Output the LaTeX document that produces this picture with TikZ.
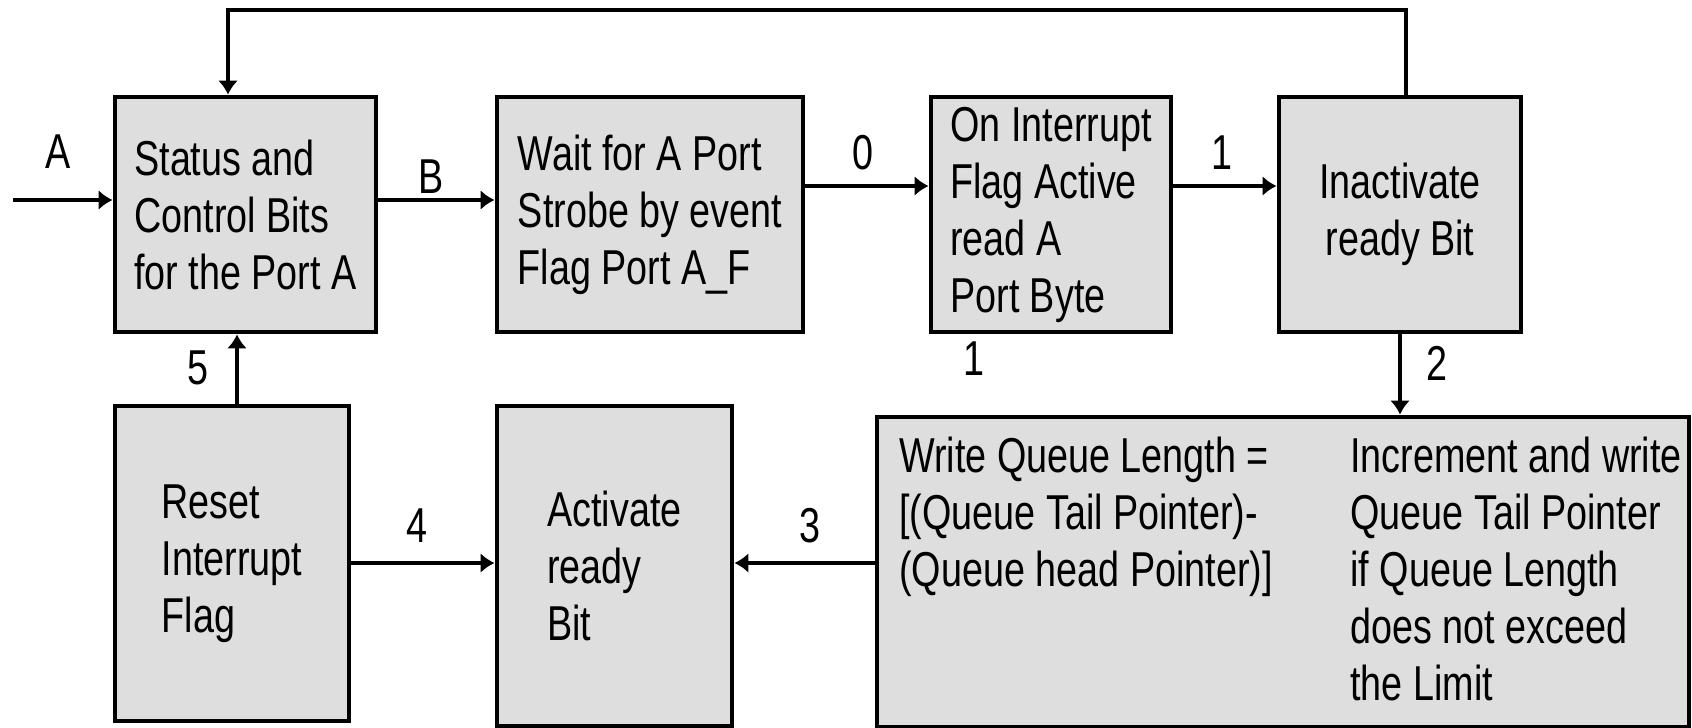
\documentclass[tikz,border=0pt]{standalone}
\usepackage{fontspec}
\setmainfont{Liberation Sans}[FakeStretch=0.77]
\usepackage{tikz}
\usetikzlibrary{shapes,arrows,arrows.meta}
\usetikzlibrary{positioning}
\definecolor{boxgray}{RGB}{222,222,222}
\tikzset{
  blk/.style={draw, line width=2.4pt, fill=boxgray, align=left, inner sep=0pt},
  lnk/.style={line width=1.9pt, -{Latex[length=7pt,width=10pt]}},
  lbl/.style={inner sep=0pt}
}

\begin{document}
\begin{tikzpicture}[x=0.5pt,y=-0.5pt,font=\fontsize{24.5}{28.5}\selectfont]
\useasboundingbox (0,0) rectangle (1692,728);

% top row
\node[blk,minimum width=130.5pt,minimum height=117.5pt] (stat) at (245.5,214.5) {Status and\\Control Bits\\for the Port A};
\node[blk,minimum width=153pt,minimum height=117.5pt] (wait) at (650,214.5) {Wait for A Port\\Strobe by event\\Flag Port A\_F};
\node[blk,minimum width=120pt,minimum height=117.5pt] (intr) at (1051,214.5) {On Interrupt\\Flag Active\\read A\\Port Byte};
\node[blk,align=center,minimum width=121pt,minimum height=117.5pt] (inact) at (1400,214.5) {Inactivate\\ready Bit};

% bottom row
\node[blk,minimum width=117pt,minimum height=157.5pt] (reset) at (232,563.5) {Reset\\Interrupt\\Flag};
\node[blk,minimum width=117.5pt,minimum height=160pt] (act) at (614.5,566) {Activate\\ready\\Bit};
\node[blk,minimum width=406pt,minimum height=155pt] (queue) at (1283,572) {};
\node[lbl,anchor=north west,align=left] (qleft) at (899,437) {Write Queue Length =\\{}[(Queue Tail Pointer)-\\(Queue head Pointer)]};
\node[lbl,anchor=north west,align=left] (qright) at (1350,437) {Increment and write\\Queue Tail Pointer\\if Queue Length\\does not exceed\\the Limit};

% helper points
\coordinate (ain) at (13,200);
\coordinate (row0) at (0,186);
\coordinate (row3) at (0,563);
\coordinate (col5) at (237,0);
\coordinate (fbtop) at (1406,10);
\coordinate (fbin) at (228,10);

% connectors
\draw[lnk] (ain) -- (ain -| stat.west);
\draw[lnk] (ain -| stat.east) -- (ain -| wait.west);
\draw[lnk] (row0 -| wait.east) -- (row0 -| intr.west);
\draw[lnk] (row0 -| intr.east) -- (row0 -| inact.west);
\draw[lnk] (inact.south) -- (inact.south |- queue.north);
\draw[lnk] (row3 -| queue.west) -- (row3 -| act.east);
\draw[lnk] (row3 -| reset.east) -- (row3 -| act.west);
\draw[lnk] (col5 |- reset.north) -- (col5 |- stat.south);
\draw[lnk] (fbtop |- inact.north) -- (fbtop) -- (fbin) -- (fbin |- stat.north);

% labels
\node[lbl] (la) at (58,152) {A};
\node[lbl] (lb) at (431,177) {B};
\node[lbl] (l0) at (863,153) {0};
\node[lbl] (l1) at (1222,153) {1};
\node[lbl] (l1b) at (974,359) {1};
\node[lbl] (l2) at (1437,363) {2};
\node[lbl] (l3) at (810,526) {3};
\node[lbl] (l4) at (417,526) {4};
\node[lbl] (l5) at (198,368) {5};
\end{tikzpicture}
\end{document}
